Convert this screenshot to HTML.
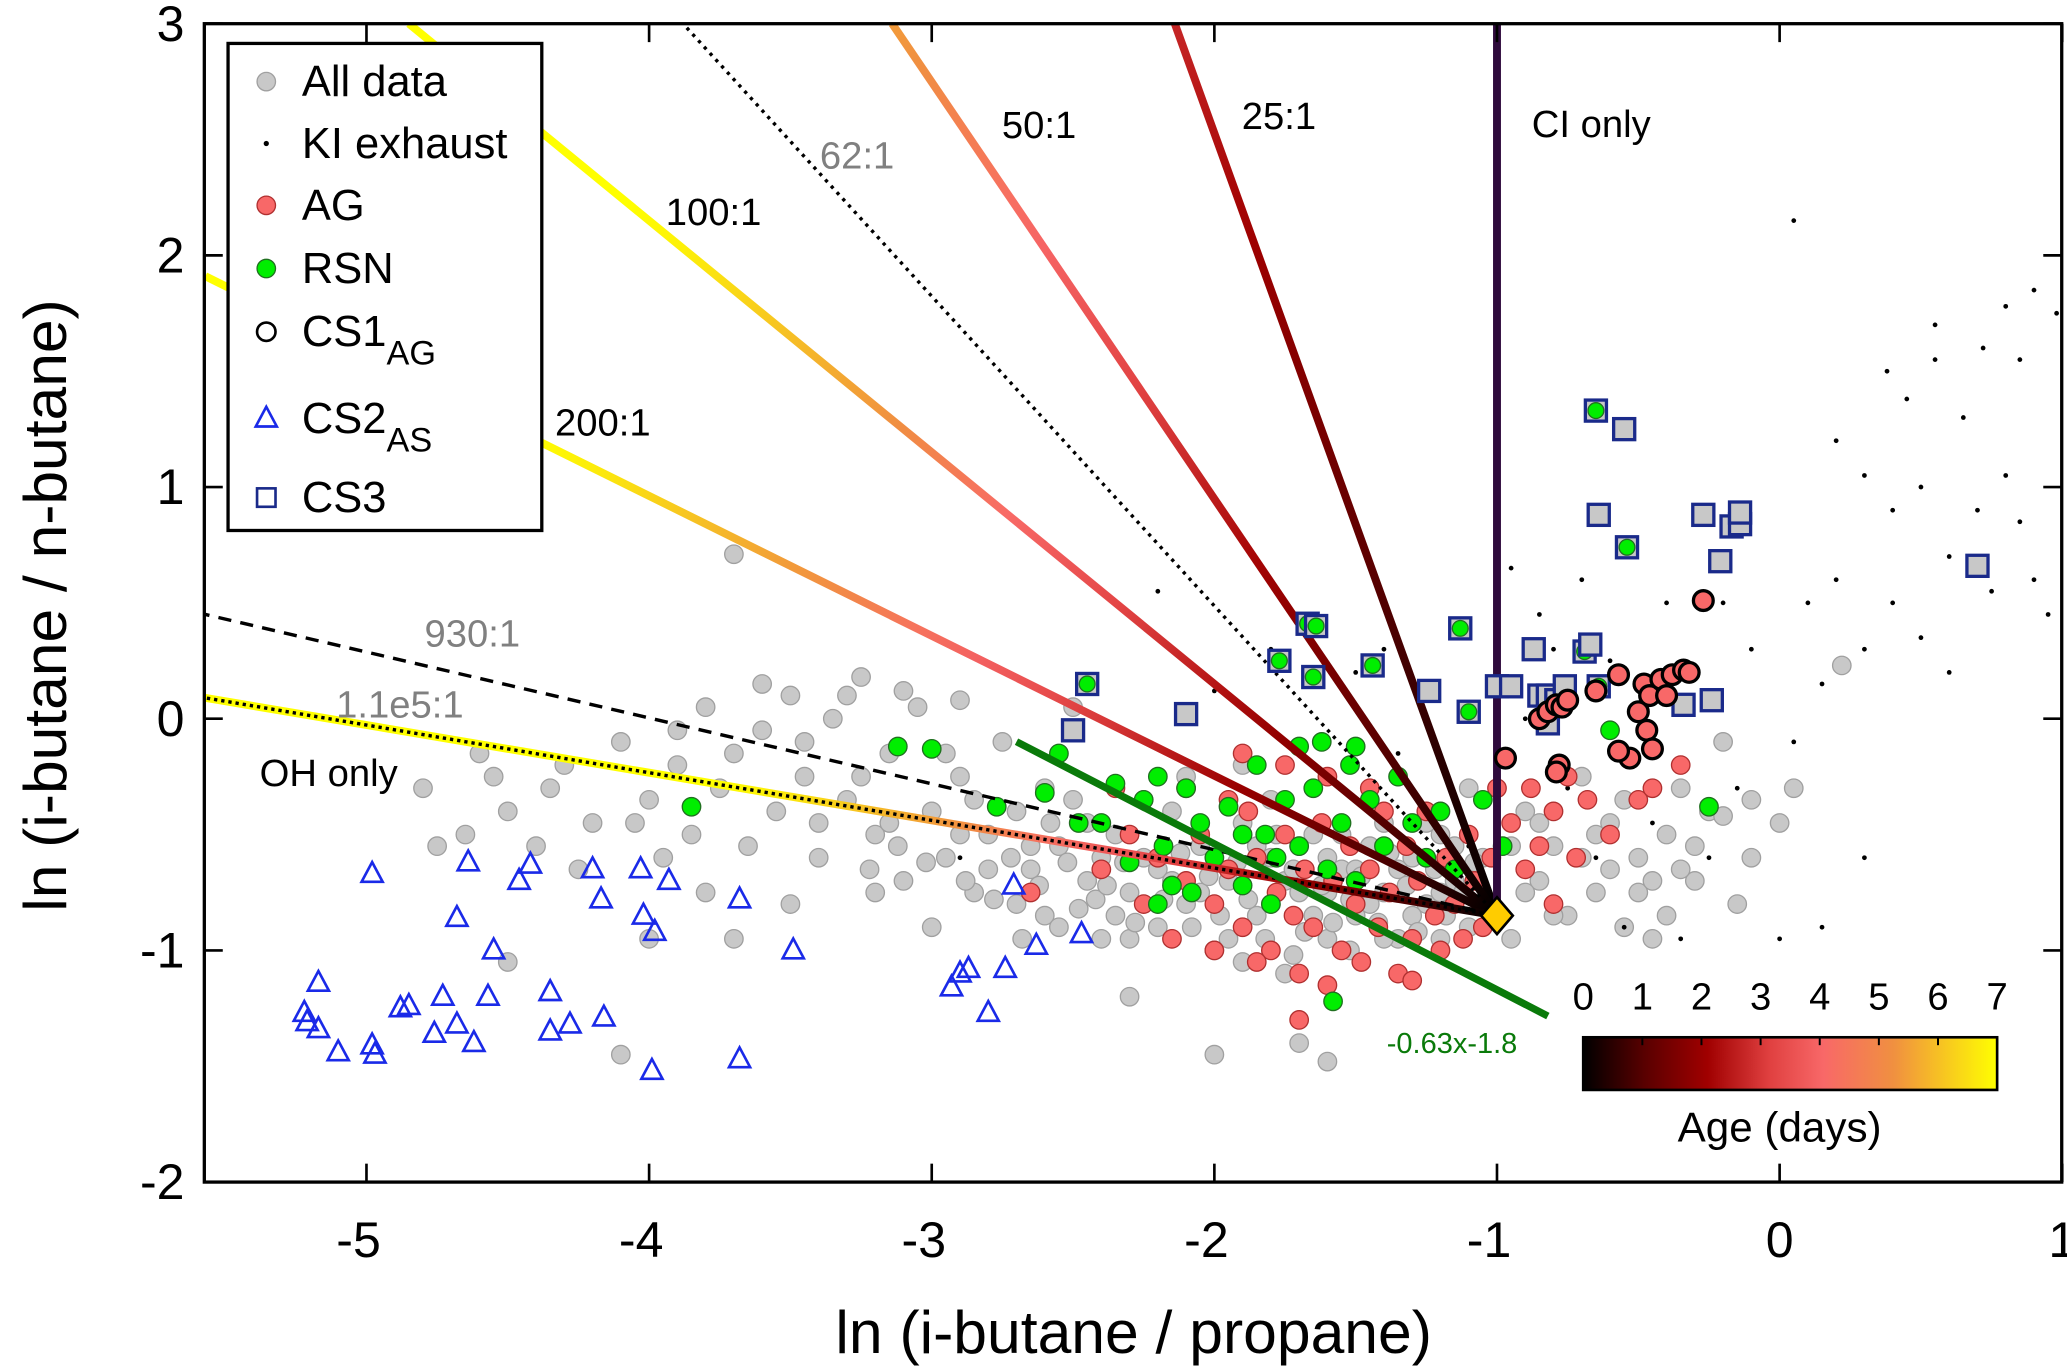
<!DOCTYPE html>
<html><head><meta charset="utf-8"><style>
html,body{margin:0;padding:0;background:#fff;}
svg{display:block;font-family:"Liberation Sans",Arial,sans-serif;}
</style></head><body>
<svg id="chart" width="2067" height="1369" viewBox="0 0 1568 1040" preserveAspectRatio="none" xmlns="http://www.w3.org/2000/svg">
<defs><clipPath id="pc"><rect x="155" y="18" width="1409" height="880"/></clipPath>
<linearGradient id="cbar" x1="0" x2="1" y1="0" y2="0">
<stop offset="0" stop-color="#000"/><stop offset="0.15" stop-color="#5a0000"/><stop offset="0.3" stop-color="#a00000"/><stop offset="0.45" stop-color="#e04040"/><stop offset="0.58" stop-color="#f86868"/><stop offset="0.75" stop-color="#f09040"/><stop offset="1" stop-color="#ffff00"/></linearGradient>
</defs>
<g id="plot" clip-path="url(#pc)"></g>
<g id="axes"></g>
</svg>
<script>
const xTicks=[-5,-4,-3,-2,-1,0,1];
const yTicks=[-2,-1,0,1,2,3];
const origin=[-1,-0.85];
const ratioNames=["25:1","50:1","100:1","200:1","OH only"];
const ratioEndX=[-2.14,-3.14,-4.85,-5.57,-5.57];
const ratioEndY=[3,3,3,1.91,0.09];
const ratioEndAge=[2.6,5.2,9,9.5,12];
const allData=[[-3.7,0.71],[-4.8,-0.3],[-4.6,-0.15],[-4.5,-0.4],[-4.3,-0.2],[-4.2,-0.45],[-4.1,-0.1],[-4.0,-0.35],[-3.9,-0.2],[-3.85,-0.5],[-3.8,0.05],[-3.75,-0.3],[-3.7,-0.15],[-3.65,-0.55],[-3.6,-0.05],[-3.55,-0.4],[-3.5,0.1],[-3.45,-0.25],[-3.4,-0.6],[-3.35,0.0],[-3.3,-0.35],[-3.25,0.18],[-3.2,-0.5],[-3.15,-0.15],[-3.1,-0.7],[-3.05,0.05],[-3.0,-0.4],[-2.95,-0.6],[-2.9,-0.25],[-2.85,-0.75],[-2.8,-0.5],[-2.75,-0.1],[-2.7,-0.4],[-2.65,-0.65],[-2.6,-0.85],[-2.55,-0.55],[-2.5,-0.35],[-2.45,-0.7],[-2.4,-0.95],[-2.35,-0.5],[-2.3,-0.75],[-2.25,-0.6],[-2.2,-0.9],[-2.15,-0.4],[-2.1,-0.8],[-2.05,-0.55],[-2.0,-1.0],[-1.95,-0.7],[-1.9,-0.45],[-1.85,-0.85],[-1.8,-0.6],[-1.75,-1.1],[-1.7,-0.75],[-1.65,-0.5],[-1.6,-0.95],[-1.55,-0.65],[-1.5,-0.85],[-1.45,-0.55],[-1.4,-0.75],[-1.35,-0.95],[-1.3,-0.6],[-1.25,-0.8],[-1.2,-0.5],[-1.15,-0.7],[-1.1,-0.9],[-1.05,-0.6],[-0.95,-0.95],[-0.9,-0.4],[-0.85,-0.7],[-0.8,-0.55],[-0.75,-0.85],[-0.7,-0.6],[-0.65,-0.75],[-0.6,-0.45],[-0.55,-0.9],[-0.5,-0.6],[-0.45,-0.95],[-0.4,-0.5],[-0.35,-0.3],[-0.3,-0.7],[-0.25,-0.4],[-0.2,-0.1],[-0.1,-0.35],[0.0,-0.45],[0.05,-0.3],[0.22,0.23],[-3.9,-0.05],[-4.4,-0.55],[-4.65,-0.5],[-4.35,-0.3],[-3.6,0.15],[-3.3,0.1],[-3.1,0.12],[-2.9,0.08],[-2.7,-0.8],[-2.45,-0.45],[-2.35,-0.85],[-2.2,-0.65],[-2.05,-0.75],[-1.95,-0.95],[-1.85,-0.55],[-1.75,-0.7],[-1.65,-0.85],[-1.55,-0.5],[-1.45,-0.8],[-1.35,-0.65],[-1.25,-0.45],[-1.15,-0.55],[-2.0,-1.45],[-1.6,-1.48],[-1.7,-1.4],[-2.3,-1.2],[-3.2,-0.75],[-3.5,-0.8],[-3.7,-0.95],[-4.1,-1.45],[-4.5,-1.05],[-4.0,-0.95],[-3.8,-0.75],[-3.4,-0.45],[-3.0,-0.9],[-2.6,-0.3],[-2.5,0.05],[-2.9,-0.5],[-2.8,-0.65],[-2.55,-0.9],[-2.25,-0.35],[-2.1,-0.25],[-1.9,-0.2],[-1.8,-0.35],[-1.7,-0.55],[-1.6,-0.75],[-1.5,-0.65],[-1.4,-0.45],[-1.3,-0.85],[-1.2,-0.75],[-1.1,-0.3],[-0.9,-0.75],[-0.8,-0.85],[-0.7,-0.25],[-0.6,-0.65],[-0.5,-0.75],[-0.4,-0.85],[-0.3,-0.55],[-0.2,-0.42],[-0.1,-0.6],[-4.75,-0.55],[-4.55,-0.25],[-4.25,-0.65],[-4.05,-0.45],[-3.95,-0.6],[-3.45,-0.1],[-3.25,-0.25],[-3.15,-0.45],[-2.95,-0.15],[-2.85,-0.35],[-2.65,-0.55],[-2.4,-0.6],[-2.15,-0.7],[-2.3,-0.95],[-1.9,-1.05],[-1.8,-0.8],[-1.6,-0.6],[-1.4,-0.95],[-1.2,-0.95],[-0.95,-0.55],[-0.85,-0.45],[-0.65,-0.5],[-0.55,-0.35],[-0.45,-0.7],[-0.35,-0.65],[-0.15,-0.8],[-2.42,-0.78],[-2.32,-0.62],[-2.28,-0.88],[-2.18,-0.78],[-2.12,-0.58],[-2.02,-0.68],[-1.98,-0.85],[-1.92,-0.62],[-1.88,-0.78],[-1.82,-0.95],[-1.78,-0.5],[-1.72,-0.65],[-1.68,-0.92],[-1.62,-0.72],[-1.58,-0.88],[-1.52,-0.78],[-1.48,-0.68],[-1.42,-0.88],[-1.38,-0.58],[-1.32,-0.72],[-1.28,-0.92],[-1.22,-0.65],[-1.18,-0.85],[-1.12,-0.75],[-1.08,-0.62],[-2.52,-0.62],[-2.62,-0.72],[-2.72,-0.6],[-2.78,-0.78],[-2.88,-0.7],[-3.02,-0.62],[-3.12,-0.55],[-3.22,-0.65],[-2.48,-0.82],[-2.38,-0.72],[-2.58,-0.45],[-2.68,-0.95],[-2.08,-0.9],[-1.72,-1.02],[-1.52,-1.0]];
const kiExhaust=[[0.05,2.15],[0.38,1.5],[0.45,1.38],[0.55,1.7],[0.55,1.55],[0.65,1.3],[0.72,1.6],[0.8,1.78],[0.85,1.55],[0.9,1.85],[0.2,1.2],[0.3,1.05],[0.4,0.9],[0.5,1.0],[0.6,0.7],[0.7,0.9],[0.75,0.55],[0.8,1.05],[0.85,0.85],[0.9,0.6],[0.95,0.45],[0.1,0.5],[0.2,0.6],[0.3,0.3],[0.4,0.5],[0.5,0.35],[0.6,0.2],[0.15,0.15],[-0.1,0.3],[-0.2,0.5],[-0.4,0.5],[-0.6,0.25],[-0.8,0.3],[-0.85,0.45],[-0.9,0.0],[-0.75,-0.3],[-0.65,-0.6],[-0.55,-0.9],[-0.45,-0.45],[-0.35,-0.95],[-0.25,-0.6],[-0.15,-0.3],[0.05,-0.1],[0.15,-0.9],[0.25,-1.5],[0.3,-0.6],[-1.4,0.3],[-1.35,-0.15],[-1.2,-0.4],[-1.1,-0.55],[-1.05,-0.7],[-1.5,0.2],[-1.8,0.3],[-2.0,0.12],[-2.9,-0.6],[-2.2,0.55],[0.98,1.75],[0.0,-0.95],[-0.95,0.65],[-0.7,0.6]];
const agPts=[[-2.4,-0.65],[-2.3,-0.5],[-2.25,-0.8],[-2.2,-0.6],[-2.15,-0.95],[-2.1,-0.7],[-2.05,-0.5],[-2.0,-0.8],[-1.95,-0.65],[-1.9,-0.9],[-1.88,-0.4],[-1.85,-0.6],[-1.8,-1.0],[-1.78,-0.75],[-1.75,-0.5],[-1.72,-0.85],[-1.7,-1.1],[-1.68,-0.65],[-1.65,-0.9],[-1.62,-0.45],[-1.6,-1.15],[-1.58,-0.7],[-1.55,-1.0],[-1.52,-0.55],[-1.5,-0.8],[-1.48,-1.05],[-1.45,-0.65],[-1.42,-0.9],[-1.4,-0.4],[-1.38,-0.75],[-1.35,-1.1],[-1.32,-0.55],[-1.3,-0.95],[-1.28,-0.7],[-1.25,-0.4],[-1.22,-0.85],[-1.2,-1.0],[-1.18,-0.6],[-1.15,-0.8],[-1.12,-0.95],[-1.1,-0.5],[-1.08,-0.7],[-1.05,-0.9],[-1.02,-0.6],[-0.95,-0.45],[-0.9,-0.65],[-0.88,-0.3],[-0.85,-0.55],[-0.8,-0.4],[-0.75,-0.25],[-0.72,-0.6],[-0.68,-0.35],[-0.6,-0.5],[-0.5,-0.35],[-0.45,-0.3],[-0.35,-0.2],[-0.8,-0.8],[-1.0,-0.3],[-1.95,-0.35],[-2.1,-0.3],[-1.85,-1.05],[-2.0,-1.0],[-1.45,-0.3],[-1.6,-0.25],[-1.75,-0.2],[-1.3,-1.13],[-2.65,-0.75],[-1.7,-1.3],[-1.9,-0.15],[-2.35,-0.3]];
const rsnPts=[[-3.85,-0.38],[-3.0,-0.13],[-3.12,-0.12],[-2.77,-0.38],[-2.6,-0.32],[-2.55,-0.15],[-2.4,-0.45],[-2.35,-0.28],[-2.3,-0.62],[-2.25,-0.35],[-2.2,-0.25],[-2.18,-0.55],[-2.15,-0.72],[-2.1,-0.3],[-2.05,-0.45],[-2.0,-0.6],[-1.95,-0.38],[-1.9,-0.72],[-1.85,-0.2],[-1.82,-0.5],[-1.78,-0.6],[-1.75,-0.35],[-1.7,-0.55],[-1.65,-0.3],[-1.6,-0.65],[-1.55,-0.45],[-1.52,-0.2],[-1.5,-0.7],[-1.45,-0.35],[-1.4,-0.55],[-1.35,-0.25],[-1.3,-0.45],[-1.25,-0.6],[-1.2,-0.4],[-1.15,-0.65],[-1.05,-0.35],[-0.98,-0.55],[-1.7,-0.12],[-1.62,-0.1],[-1.5,-0.12],[-2.08,-0.75],[-2.2,-0.8],[-1.9,-0.5],[-1.58,-1.22],[-0.25,-0.38],[-0.6,-0.05],[-2.48,-0.45],[-1.8,-0.8]];
const cs1=[[-0.27,0.51],[-0.97,-0.17],[-0.85,0.0],[-0.82,0.03],[-0.79,0.06],[-0.77,0.05],[-0.75,0.08],[-0.65,0.12],[-0.57,0.19],[-0.48,0.15],[-0.46,0.1],[-0.5,0.03],[-0.47,-0.05],[-0.42,0.17],[-0.38,0.19],[-0.34,0.21],[-0.32,0.2],[-0.45,-0.13],[-0.53,-0.17],[-0.57,-0.14],[-0.78,-0.2],[-0.79,-0.23],[-0.4,0.1]];
const cs2=[[-4.98,-0.67],[-4.64,-0.62],[-4.42,-0.63],[-4.2,-0.65],[-4.03,-0.65],[-3.93,-0.7],[-4.68,-0.86],[-4.17,-0.78],[-4.02,-0.85],[-3.98,-0.92],[-4.46,-0.7],[-3.68,-0.78],[-4.55,-1.0],[-5.17,-1.14],[-5.22,-1.27],[-5.21,-1.31],[-5.17,-1.34],[-5.1,-1.44],[-4.98,-1.41],[-4.97,-1.45],[-4.88,-1.25],[-4.85,-1.24],[-4.76,-1.36],[-4.73,-1.2],[-4.68,-1.32],[-4.62,-1.4],[-4.57,-1.2],[-4.35,-1.18],[-4.35,-1.35],[-4.28,-1.32],[-4.16,-1.29],[-3.99,-1.52],[-3.68,-1.47],[-3.49,-1.0],[-2.93,-1.16],[-2.9,-1.1],[-2.87,-1.08],[-2.8,-1.27],[-2.74,-1.08],[-2.63,-0.98],[-2.47,-0.93],[-2.71,-0.72]];
const cs3=[[-2.45,0.15],[-2.5,-0.05],[-2.1,0.02],[-1.77,0.25],[-1.67,0.41],[-1.64,0.4],[-1.65,0.18],[-1.44,0.23],[-1.24,0.12],[-1.13,0.39],[-1.1,0.03],[-1.0,0.14],[-0.95,0.14],[-0.87,0.3],[-0.85,0.1],[-0.82,0.1],[-0.82,-0.02],[-0.79,0.08],[-0.76,0.14],[-0.69,0.29],[-0.67,0.32],[-0.64,0.14],[-0.65,1.33],[-0.55,1.25],[-0.64,0.88],[-0.54,0.74],[-0.27,0.88],[-0.17,0.83],[-0.14,0.84],[-0.14,0.89],[-0.21,0.68],[-0.34,0.06],[-0.24,0.08],[0.7,0.66]];
const cs3Fill=["g","s","s","g","g","g","g","g","s","g","g","s","s","s","s","s","s","s","s","g","s","g","g","s","s","g","s","s","s","s","s","s","s","s"];

const NS="http://www.w3.org/2000/svg";
const sx=x=>1350+214.4*x, sy=y=>546-176*y;
const plot=document.getElementById('plot'), axes=document.getElementById('axes');
function mk(tag,attrs,parent){const e=document.createElementNS(NS,tag);for(const k in attrs)e.setAttribute(k,attrs[k]);parent.appendChild(e);return e;}
function ageColor(a){const st=[[0,[0,0,0]],[1,[90,0,0]],[2,[160,0,0]],[3,[224,64,64]],[4,[248,104,104]],[5,[240,144,64]],[7,[255,255,0]]];
 for(let i=1;i<st.length;i++){if(a<=st[i][0]){const t=(a-st[i-1][0])/(st[i][0]-st[i-1][0]);const c=st[i-1][1].map((v,j)=>Math.round(v+(st[i][1][j]-v)*t));return `rgb(${c})`;}}return 'rgb(255,255,0)';}

allData.forEach(p=>{const c=mk('circle',{cx:sx(p[0]),cy:sy(p[1]),r:7,fill:'#c8c8c8',stroke:'#a0a0a0','stroke-width':1},plot);

});
kiExhaust.forEach(p=>{const c=mk('circle',{cx:sx(p[0]),cy:sy(p[1]),r:1.8,fill:'#000'},plot);

});
agPts.forEach(p=>{const c=mk('circle',{cx:sx(p[0]),cy:sy(p[1]),r:7,fill:'#f86868',stroke:'#b03030','stroke-width':1},plot);

});
rsnPts.forEach(p=>{const c=mk('circle',{cx:sx(p[0]),cy:sy(p[1]),r:7,fill:'#00ee00',stroke:'#207020','stroke-width':1},plot);

});

const ox=sx(origin[0]), oy=sy(origin[1]);
ratioNames.forEach((n,i)=>{
 const ex=sx(ratioEndX[i]), ey=sy(ratioEndY[i]);
 const id='g'+i; const g=mk('linearGradient',{id:id,gradientUnits:'userSpaceOnUse',x1:ox,y1:oy,x2:ex,y2:ey},document.querySelector('defs'));
 for(let k=0;k<=20;k++){mk('stop',{offset:k/20,'stop-color':ageColor(ratioEndAge[i]*k/20)},g);}
 const l=mk('line',{x1:ox,y1:oy,x2:ex,y2:ey,stroke:`url(#${id})`,'stroke-width':6},plot);
 
 
});
const refEndX=[-3.88,-5.57,-5.57], refEndY=[3,0.45,0.09], refDash=['2.5,4','10,7','2.5,3'];
refEndX.forEach((x,i)=>{const l=mk('line',{x1:ox,y1:oy,x2:sx(x),y2:sy(refEndY[i]),stroke:'#000','stroke-width':2.6,'stroke-dasharray':refDash[i]},plot);

});
const ci=mk('line',{x1:ox,y1:oy,x2:ox,y2:sy(3),stroke:'#2e0a3c','stroke-width':6},plot);


const fitA=-0.63, fitB=-1.8, fitX=[-2.7,-0.82];
const fl=mk('line',{x1:sx(fitX[0]),y1:sy(fitA*fitX[0]+fitB),x2:sx(fitX[1]),y2:sy(fitA*fitX[1]+fitB),stroke:'#0a7a0a','stroke-width':5.5},plot);



cs3.forEach((p,i)=>{const x=sx(p[0]),y=sy(p[1]);
 const r=mk('rect',{x:x-8,y:y-8,width:16,height:16,fill:'#c8c8c8',stroke:'#1a2a8a','stroke-width':2.5},plot);
 
 
 if(cs3Fill[i]==='g'){mk('circle',{cx:x,cy:y,r:6,fill:'#00ee00',stroke:'#207020','stroke-width':1},plot);}});
cs1.forEach(p=>{const c=mk('circle',{cx:sx(p[0]),cy:sy(p[1]),r:7.5,fill:'#f86868',stroke:'#000','stroke-width':2.5},plot);

});
cs2.forEach(p=>{const x=sx(p[0]),y=sy(p[1]);const t=mk('polygon',{points:`${x},${y-9} ${x-8},${y+6} ${x+8},${y+6}`,fill:'none',stroke:'#1a2ae8','stroke-width':2},plot);

});
const dm=mk('polygon',{points:`${ox},${oy-14} ${ox+12},${oy} ${ox},${oy+14} ${ox-12},${oy}`,fill:'#ffcc00',stroke:'#000','stroke-width':2},plot);



const labTxt=["100:1","62:1","50:1","25:1","CI only","200:1","930:1","1.1e5:1","OH only","-0.63x-1.8"];
const labX=[505,622,760,942,1162,421,322,255,197,1052];
const labY=[171,128,105,98,104,331,491,545,597,800];
const labCol=["#000","#808080","#000","#000","#000","#000","#808080","#808080","#000","#0a7a0a"];
const labSize=[29,29,29,29,29,29,29,29,29,22];
labTxt.forEach((t,i)=>{const e=mk('text',{x:labX[i],y:labY[i],fill:labCol[i],'font-size':labSize[i]},axes);e.textContent=t;

});

const fr=mk('rect',{x:155,y:18,width:1409,height:880,fill:'none',stroke:'#000','stroke-width':2.5},axes);


xTicks.forEach(v=>{const x=sx(v);mk('line',{x1:x,y1:898,x2:x,y2:884,stroke:'#000','stroke-width':2},axes);mk('line',{x1:x,y1:18,x2:x,y2:32,stroke:'#000','stroke-width':2},axes);
 const t=mk('text',{x:x-(v<0?6:0),y:955,'text-anchor':'middle','font-size':38},axes);t.textContent=v;
 
 });
yTicks.forEach(v=>{const y=sy(v);mk('line',{x1:155,y1:y,x2:169,y2:y,stroke:'#000','stroke-width':2},axes);mk('line',{x1:1564,y1:y,x2:1550,y2:y,stroke:'#000','stroke-width':2},axes);
 const t=mk('text',{x:140,y:y+13,'text-anchor':'end','font-size':38},axes);t.textContent=v;
 
 });
const xt=mk('text',{x:860,y:1028,'text-anchor':'middle','font-size':46},axes);xt.textContent='ln (i-butane / propane)';


const yt=mk('text',{x:0,y:0,'text-anchor':'middle','font-size':46,transform:'translate(50,460) rotate(-90)'},axes);yt.textContent='ln (i-butane / n-butane)';



const cbTicks=[0,1,2,3,4,5,6,7];
const cb=mk('rect',{x:1201,y:788,width:314,height:40,fill:'url(#cbar)',stroke:'#000','stroke-width':2},axes);


cbTicks.forEach(v=>{const x=1201+314*v/7;const t=mk('text',{x:x,y:767,'text-anchor':'middle','font-size':29},axes);t.textContent=v;


mk('line',{x1:x,y1:788,x2:x,y2:794,stroke:'#000','stroke-width':1.5},axes);});
const cbl=mk('text',{x:1350,y:867,'text-anchor':'middle','font-size':32},axes);cbl.textContent='Age (days)';



const lg=mk('g',{},axes);


mk('rect',{x:173,y:33,width:238,height:370,fill:'#fff',stroke:'#000','stroke-width':2.5},lg);
const legY=[62,109,156,204,252,318,378];
mk('circle',{cx:202,cy:legY[0],r:7,fill:'#c8c8c8',stroke:'#a0a0a0'},lg);
mk('circle',{cx:202,cy:legY[1],r:2,fill:'#000'},lg);
mk('circle',{cx:202,cy:legY[2],r:7,fill:'#f86868',stroke:'#b03030'},lg);
mk('circle',{cx:202,cy:legY[3],r:7,fill:'#00ee00',stroke:'#207020'},lg);
mk('circle',{cx:202,cy:legY[4],r:7,fill:'none',stroke:'#000','stroke-width':2},lg);
mk('polygon',{points:`202,${legY[5]-9} 194,${legY[5]+6} 210,${legY[5]+6}`,fill:'none',stroke:'#1a2ae8','stroke-width':2},lg);
mk('rect',{x:195,y:legY[6]-7,width:14,height:14,fill:'none',stroke:'#1a2a8a','stroke-width':2},lg);
const legTxt=["All data","KI exhaust","AG","RSN"];
legTxt.forEach((t,i)=>{const e=mk('text',{x:229,y:legY[i]+11,'font-size':33},lg);e.textContent=t;

});
const l5=mk('text',{x:229,y:legY[4]+11,'font-size':33},lg);l5.innerHTML='CS1<tspan font-size="26" dy="14">AG</tspan>';


const l6=mk('text',{x:229,y:legY[5]+11,'font-size':33},lg);l6.innerHTML='CS2<tspan font-size="26" dy="14">AS</tspan>';


const l7=mk('text',{x:229,y:legY[6]+11,'font-size':33},lg);l7.textContent='CS3';


</script>
</body></html>
